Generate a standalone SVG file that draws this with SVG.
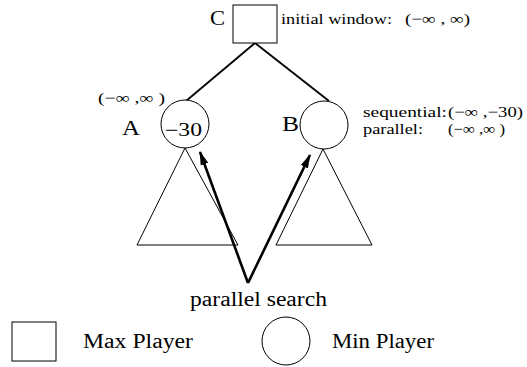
<svg xmlns="http://www.w3.org/2000/svg" width="527" height="367" viewBox="0 0 527 367">
<style>
text{font-family:"Liberation Serif","Times New Roman",serif;fill:#000}
.big{font-size:20px}
.sm{font-size:15px}
.mid{font-size:18px}
.shape{fill:#fff;stroke:#000;stroke-width:1}
.edge{stroke:#000;stroke-width:1.8;fill:none}
.arrow{stroke:#000;stroke-width:2.6;fill:none}
</style>
<defs>
<marker id="ah" markerUnits="userSpaceOnUse" markerWidth="16" markerHeight="10" refX="13" refY="4" orient="auto">
<path d="M0,0 L14,4 L0,8 z" fill="#000"/>
</marker>
</defs>
<rect width="527" height="367" fill="#fff"/>
<g id="connectors">
<line class="edge" x1="255" y1="43" x2="186" y2="101"/>
<line class="edge" x1="255" y1="43" x2="329" y2="101"/>
</g>
<g id="nodeC">
<rect class="shape" x="233" y="5" width="44" height="38"/>
<text class="big" x="210" y="25" textLength="15" lengthAdjust="spacingAndGlyphs">C</text>
<text class="sm" x="281" y="24" textLength="111" lengthAdjust="spacingAndGlyphs">initial window:</text>
<text class="sm" x="405" y="24" textLength="65" lengthAdjust="spacingAndGlyphs">(−∞ , ∞)</text>
</g>
<g id="nodeA">
<circle class="shape" cx="185" cy="124" r="24"/>
<text class="sm" x="98" y="103" textLength="67" lengthAdjust="spacingAndGlyphs">(−∞ ,∞ )</text>
<text class="big" x="122" y="135" textLength="18" lengthAdjust="spacingAndGlyphs">A</text>
<text class="mid" x="165" y="136" textLength="37" lengthAdjust="spacingAndGlyphs">−30</text>
</g>
<g id="nodeB">
<circle class="shape" cx="324" cy="125" r="24"/>
<text class="big" x="282" y="131" textLength="17" lengthAdjust="spacingAndGlyphs">B</text>
<text class="sm" x="363" y="117" textLength="84" lengthAdjust="spacingAndGlyphs">sequential:</text>
<text class="sm" x="448" y="117" textLength="75" lengthAdjust="spacingAndGlyphs">(−∞ ,−30)</text>
<text class="sm" x="363" y="134" textLength="60" lengthAdjust="spacingAndGlyphs">parallel:</text>
<text class="sm" x="448" y="134" textLength="57" lengthAdjust="spacingAndGlyphs">(−∞ ,∞ )</text>
</g>
<g id="subtreeA">
<polygon class="shape" points="185,148 238,245 137,245"/>
</g>
<g id="subtreeB">
<polygon class="shape" points="323,149 372,245 276,245"/>
</g>
<g id="parallelSearch">
<line class="arrow" x1="248" y1="283" x2="200" y2="152" marker-end="url(#ah)"/>
<line class="arrow" x1="248" y1="283" x2="310" y2="155" marker-end="url(#ah)"/>
<text class="big" x="190" y="306" textLength="137" lengthAdjust="spacingAndGlyphs">parallel search</text>
</g>
<g id="legend">
<rect class="shape" x="12" y="322" width="44" height="39"/>
<text class="big" x="83" y="348" textLength="110" lengthAdjust="spacingAndGlyphs">Max Player</text>
<circle class="shape" cx="286" cy="341" r="24"/>
<text class="big" x="332" y="348" textLength="102" lengthAdjust="spacingAndGlyphs">Min Player</text>
</g>
</svg>
